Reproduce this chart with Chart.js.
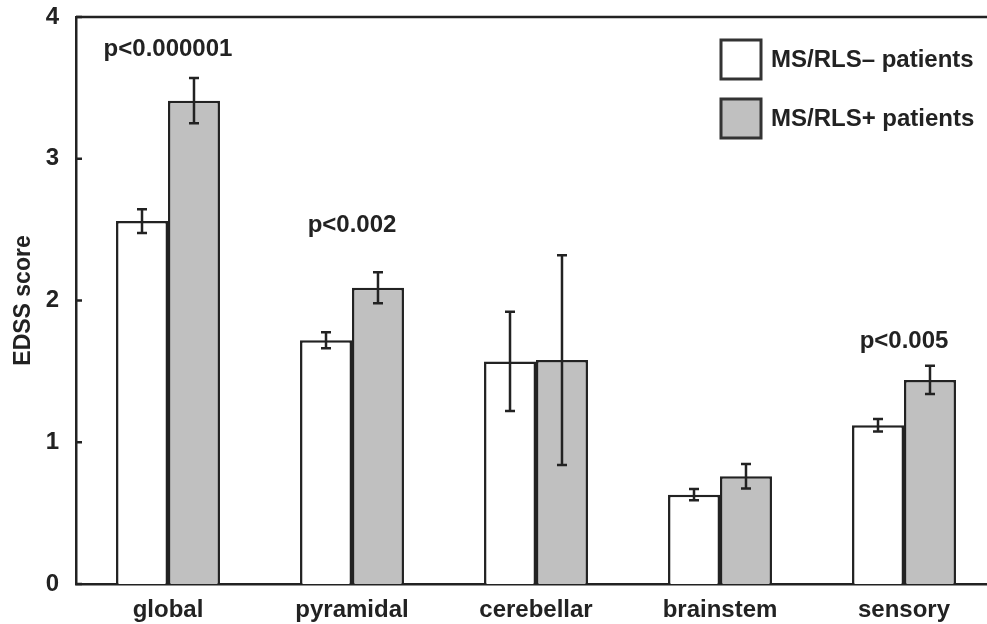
<!DOCTYPE html>
<html>
<head>
<meta charset="utf-8">
<script src="https://cdn.jsdelivr.net/npm/chart.js@4.4.1/dist/chart.umd.min.js"></script>
<style>
  html, body { margin: 0; padding: 0; background: #fff; overflow: hidden; }
  #wrap { width: 987px; height: 624px; overflow: hidden; }
</style>
</head>
<body>
<div id="wrap"><canvas id="myChart" width="1000" height="624"></canvas></div>
<script>
// categories and values
var categories = ['global', 'pyramidal', 'cerebellar', 'brainstem', 'sensory'];
var rlsNeg = [2.56, 1.72, 1.57, 0.63, 1.12];
var rlsNegErr = [0.083, 0.056, 0.35, 0.04, 0.044];
var rlsPos = [3.41, 2.09, 1.58, 0.76, 1.44];
var rlsPosErr = [0.16, 0.11, 0.74, 0.086, 0.10];
var yTicks = [0, 1, 2, 3, 4];
var pTexts = ['p<0.000001', 'p<0.002', '', '', 'p<0.005'];
var pLevels = [3.77, 2.53, null, null, 1.71];

var ink = '#222';
var fam = '"Liberation Sans", Arial, sans-serif';
var boldFont = 'bold 24px ' + fam;

var errorBars = {
    id: 'errorBars',
    afterDatasetsDraw: function (chart) {
        var ctx = chart.ctx;
        var y = chart.scales.y;
        var errs = [rlsNegErr, rlsPosErr];
        ctx.save();
        ctx.strokeStyle = ink;
        ctx.lineWidth = 2.5;
        chart.data.datasets.forEach(function (ds, i) {
            var meta = chart.getDatasetMeta(i);
            meta.data.forEach(function (bar, j) {
                var v = ds.data[j], e = errs[i][j];
                var top = y.getPixelForValue(v + e), bot = y.getPixelForValue(v - e);
                ctx.beginPath();
                ctx.moveTo(bar.x, top); ctx.lineTo(bar.x, bot);
                ctx.moveTo(bar.x - 5, top); ctx.lineTo(bar.x + 5, top);
                ctx.moveTo(bar.x - 5, bot); ctx.lineTo(bar.x + 5, bot);
                ctx.stroke();
            });
        });
        ctx.restore();
    }
};

var decorations = {
    id: 'decorations',
    afterDraw: function (chart) {
        var ctx = chart.ctx;
        var area = chart.chartArea;
        var x = chart.scales.x, y = chart.scales.y;
        ctx.save();
        // top frame line
        ctx.strokeStyle = ink;
        ctx.lineWidth = 2.5;
        ctx.beginPath();
        ctx.moveTo(area.left, area.top); ctx.lineTo(chart.width, area.top);
        ctx.stroke();
        // inward y ticks
        yTicks.forEach(function (t) {
            var py = y.getPixelForValue(t);
            ctx.beginPath();
            ctx.moveTo(area.left, py); ctx.lineTo(area.left + 6, py);
            ctx.stroke();
        });
        // p values
        ctx.fillStyle = ink;
        ctx.font = boldFont;
        ctx.textAlign = 'center';
        ctx.textBaseline = 'middle';
        pTexts.forEach(function (t, i) {
            if (!t) return;
            ctx.fillText(t, x.getPixelForValue(i), y.getPixelForValue(pLevels[i]));
        });
        // legend
        ctx.textAlign = 'left';
        chart.data.datasets.forEach(function (ds, i) {
            var bx = 721, by = 40 + i * 59;
            ctx.fillStyle = ds.backgroundColor;
            ctx.fillRect(bx, by, 40, 39);
            ctx.lineWidth = 3;
            ctx.strokeStyle = '#333';
            ctx.strokeRect(bx, by, 40, 39);
            ctx.fillStyle = ink;
            ctx.fillText(ds.label, bx + 50, by + 20);
        });
        ctx.restore();
    }
};

var ctx = document.getElementById('myChart').getContext('2d');
var myChart = new Chart(ctx, {
    type: 'bar',
    data: {
        labels: categories,
        datasets: [{
            label: 'MS/RLS\u2013 patients',
            data: rlsNeg,
            backgroundColor: '#ffffff',
            borderColor: ink,
            borderWidth: 2.5
        }, {
            label: 'MS/RLS+ patients',
            data: rlsPos,
            backgroundColor: '#c0c0c0',
            borderColor: ink,
            borderWidth: 2.5
        }]
    },
    options: {
        responsive: false,
        animation: false,
        layout: { padding: { top: 17, right: 4, left: 10, bottom: 0 } },
        plugins: {
            legend: { display: false },
            tooltip: { enabled: false }
        },
        datasets: {
            bar: { categoryPercentage: 0.565, barPercentage: 1.0 }
        },
        scales: {
            x: {
                grid: { display: false },
                border: { display: true, color: ink, width: 2.5 },
                ticks: { color: ink, font: { family: fam, size: 24, weight: 'bold' }, padding: 4 },
                afterFit: function (scale) { scale.height = 40; }
            },
            y: {
                min: 0,
                max: 4,
                grid: { display: false },
                border: { display: true, color: ink, width: 2.5 },
                ticks: {
                    stepSize: 1,
                    color: ink,
                    padding: 9,
                    font: { family: fam, size: 24, weight: 'bold' }
                },
                title: {
                    display: true,
                    text: 'EDSS score',
                    color: ink,
                    padding: 0,
                    font: { family: fam, size: 23, weight: 'bold' }
                },
                afterFit: function (scale) {
                    scale.width = 66;
                    scale.paddingTop = 0;
                    scale.paddingBottom = 0;
                }
            }
        }
    },
    plugins: [errorBars, decorations]
});
</script>
</body>
</html>
